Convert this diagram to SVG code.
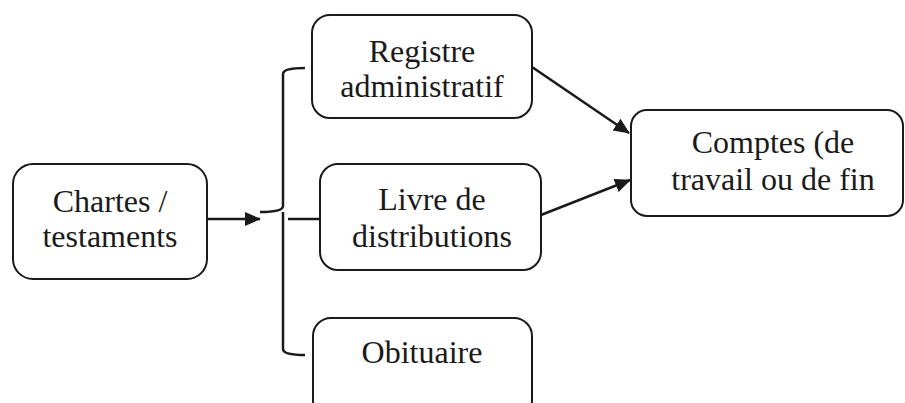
<svg xmlns="http://www.w3.org/2000/svg" width="905" height="403" viewBox="0 0 905 403">
<style>
.box{fill:#fff;stroke:#1a1a1a;stroke-width:2}
.t{font-size:32px;fill:#1a1a1a;text-anchor:middle}
.c{fill:none;stroke:#1a1a1a;stroke-width:2.5}
</style>
<defs>
<marker id="ah" markerWidth="16" markerHeight="14" refX="15" refY="7" orient="auto" markerUnits="userSpaceOnUse" viewBox="0 0 16 14">
<path d="M0,0 L16,7 L0,14 z" fill="#1a1a1a"/>
</marker>
</defs>
<rect width="905" height="403" fill="#fff"/>
<g id="connectors">
<path class="c" d="M207,219 L260,219" marker-end="url(#ah)"/>
<path class="c" d="M305,68 Q283,68 283,74 L283,206 Q283,212 260,212 M283,212 Q283,218 283,222 L283,349 Q283,355 305,355"/>
<path class="c" d="M288,219 L320,219"/>
<path class="c" d="M532,67 L629,133" marker-end="url(#ah)"/>
<path class="c" d="M541,215 L630,180" marker-end="url(#ah)"/>
</g>
<g font-family="'Liberation Serif', 'Times New Roman', 'DejaVu Serif', serif">
<g id="chartes">
<rect class="box" x="13" y="164" width="194" height="115" rx="20"/>
<text class="t" x="110" y="212">Chartes /</text>
<text class="t" x="110" y="247">testaments</text>
</g>
<g id="registre">
<rect class="box" x="312" y="15" width="220" height="103" rx="18"/>
<text class="t" x="422" y="62">Registre</text>
<text class="t" x="422" y="97">administratif</text>
</g>
<g id="livre">
<rect class="box" x="320" y="164" width="221" height="106" rx="18"/>
<text class="t" x="432" y="210">Livre de</text>
<text class="t" x="432" y="247">distributions</text>
</g>
<g id="obituaire">
<rect class="box" x="313" y="318" width="219" height="100" rx="18"/>
<text class="t" x="422" y="363">Obituaire</text>
</g>
<g id="comptes">
<rect class="box" x="631" y="110" width="272" height="106" rx="16"/>
<text class="t" x="773" y="153">Comptes (de</text>
<text class="t" x="773" y="190">travail ou de fin</text>
</g>
</g>
</svg>
